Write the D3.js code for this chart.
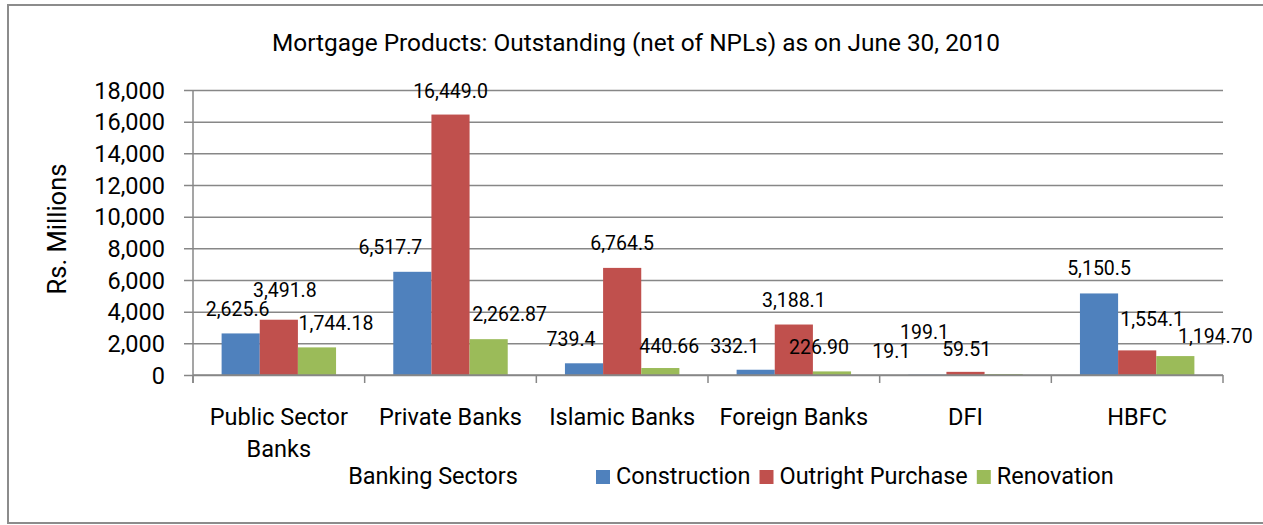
<!DOCTYPE html>
<html>
<head>
<meta charset="utf-8">
<script src="https://cdn.jsdelivr.net/npm/d3@7"></script>
<style>
  html, body { margin: 0; padding: 0; background: #fff; }
  svg { display: block; font-family: Roboto, "Liberation Sans", sans-serif; }
</style>
</head>
<body>
<svg id="chart" width="1263" height="525"></svg>
<script>
// ---------- data ----------
const categories = ["Public Sector Banks", "Private Banks", "Islamic Banks", "Foreign Banks", "DFI", "HBFC"];
const seriesNames = ["Construction", "Outright Purchase", "Renovation"];
const construction = [2625.6, 6517.7, 739.4, 332.1, 19.1, 5150.5];
const outrightPurchase = [3491.8, 16449.0, 6764.5, 3188.1, 199.1, 1554.1];
const renovation = [1744.18, 2262.87, 440.66, 226.90, 59.51, 1194.70];
const yTicks = [0, 2000, 4000, 6000, 8000, 10000, 12000, 14000, 16000, 18000];
const titleText = "Mortgage Products: Outstanding (net of NPLs) as on June 30, 2010";
const yTitle = "Rs. Millions";
const xTitle = "Banking Sectors";

// ---------- styling / layout (not data) ----------
const colors = ["#4F81BD", "#C0504D", "#9BBB59"];
const labelFormats = [d3.format(",.1f"), d3.format(",.1f"), d3.format(",.2f")];
// manual nudges of data labels (px), as in the original chart
const labelShiftX = [
  [-3, -22, -13, -21, -36, 0],
  [6, 0, 0, 0, -41, 15],
  [19, 21, 9, -13, -37, 40]
];
const labelShiftY = [
  [1, 0, 1, 1, 1, 0],
  [-5, 1, 0, 0, -15, -6],
  [1, 0, 3, 1, 0, 5]
];
const gridColor = "#878787";

const values = [construction, outrightPurchase, renovation];
const svg = d3.select("#chart");

// outer frame
svg.append("rect")
  .attr("x", 8).attr("y", 5).attr("width", 1270).attr("height", 518)
  .attr("fill", "#fff").attr("stroke", "#8c8c8c").attr("stroke-width", 2);

const plot = { left: 193, right: 1223, top: 90, bottom: 375 };

const x = d3.scaleBand().domain(categories).range([plot.left, plot.right]).paddingInner(0).paddingOuter(0);
const xs = d3.scaleBand().domain(seriesNames).range([0, x.bandwidth()]).paddingInner(0).paddingOuter(0.75);
const y = d3.scaleLinear().domain([0, 18000]).range([plot.bottom, plot.top]);

// gridlines + y axis
const yAxis = d3.axisLeft(y).tickValues(yTicks).tickFormat(d3.format(",")).tickSize(-(plot.right - plot.left)).tickPadding(0);
const gy = svg.append("g").attr("transform", `translate(${plot.left},0)`).call(yAxis);
gy.select(".domain").remove();
gy.selectAll(".tick line").attr("x1", -9).attr("stroke", gridColor).attr("stroke-width", 1.5);
gy.selectAll(".tick text").attr("x", -28).attr("dy", "0.34em")
  .attr("font-size", 23.5).attr("fill", "#000").attr("font-family", "Roboto");

// vertical axis line
svg.append("line").attr("x1", plot.left).attr("x2", plot.left)
  .attr("y1", plot.top).attr("y2", plot.bottom + 8)
  .attr("stroke", gridColor).attr("stroke-width", 1.5);

// x axis (category ticks between groups)
const gx = svg.append("g").attr("transform", `translate(0,${plot.bottom})`)
  .call(d3.axisBottom(x).tickSize(0).tickFormat(""));
gx.select(".domain").remove();
const boundaries = categories.map(c => x(c) + x.bandwidth()).concat([x(categories[0])]);
svg.append("g").selectAll("line").data(boundaries).join("line")
  .attr("x1", d => d).attr("x2", d => d)
  .attr("y1", plot.bottom).attr("y2", plot.bottom + 8)
  .attr("stroke", gridColor).attr("stroke-width", 1.5);

// bars
const groups = svg.append("g").selectAll("g").data(seriesNames).join("g")
  .attr("fill", (d, i) => colors[i]);
groups.each(function (s, si) {
  d3.select(this).selectAll("rect").data(values[si]).join("rect")
    .attr("x", (v, ci) => x(categories[ci]) + xs(s))
    .attr("width", xs.bandwidth())
    .attr("y", v => y(v))
    .attr("height", v => y(0) - y(v));
});

// horizontal zero axis line on top of bars
svg.append("line").attr("x1", plot.left).attr("x2", plot.right)
  .attr("y1", plot.bottom).attr("y2", plot.bottom)
  .attr("stroke", gridColor).attr("stroke-width", 1.5);

// data labels
seriesNames.forEach((s, si) => {
  svg.append("g").selectAll("text").data(values[si]).join("text")
    .attr("x", (v, ci) => x(categories[ci]) + xs(s) + xs.bandwidth() / 2 + labelShiftX[si][ci])
    .attr("y", (v, ci) => y(v) - 18 + labelShiftY[si][ci])
    .attr("text-anchor", "middle")
    .attr("font-size", 19.5)
    .attr("fill", "#000")
    .text((v) => labelFormats[si](v));
});

// category labels with wrapping
const catText = svg.append("g").selectAll("text").data(categories).join("text")
  .attr("x", c => x(c) + x.bandwidth() / 2)
  .attr("y", 425)
  .attr("text-anchor", "middle")
  .attr("font-size", 23.5)
  .attr("fill", "#000");
catText.each(function (c) {
  const t = d3.select(this);
  const words = c.split(" ");
  const maxW = x.bandwidth() - 6;
  let line = [];
  let tspan = t.append("tspan").attr("x", x(c) + x.bandwidth() / 2).attr("dy", 0);
  words.forEach(w => {
    line.push(w);
    tspan.text(line.join(" "));
    if (tspan.node().getComputedTextLength() > maxW && line.length > 1) {
      line.pop();
      tspan.text(line.join(" "));
      line = [w];
      tspan = t.append("tspan").attr("x", x(c) + x.bandwidth() / 2).attr("dy", 32).text(w);
    }
  });
});

// title
svg.append("text").attr("x", 636).attr("y", 51).attr("text-anchor", "middle")
  .attr("font-size", 24.4).attr("fill", "#000").text(titleText);

// y title
svg.append("text").attr("transform", "translate(66,229) rotate(-90)")
  .attr("text-anchor", "middle").attr("font-size", 25.5).attr("fill", "#000").text(yTitle);

// x title
svg.append("text").attr("x", 433).attr("y", 484).attr("text-anchor", "middle")
  .attr("font-size", 23.5).attr("fill", "#000").text(xTitle);

// legend, laid out sequentially
const leg = svg.append("g").attr("transform", "translate(596,470)");
let lx = 0;
seriesNames.forEach((name, i) => {
  const g = leg.append("g").attr("transform", `translate(${lx},0)`);
  g.append("rect").attr("width", 14).attr("height", 14).attr("fill", colors[i]);
  const t = g.append("text").attr("x", 20).attr("y", 14).attr("font-size", 23.5).attr("fill", "#000").text(name);
  lx += 20 + t.node().getComputedTextLength() + 9;
});
</script>
</body>
</html>
